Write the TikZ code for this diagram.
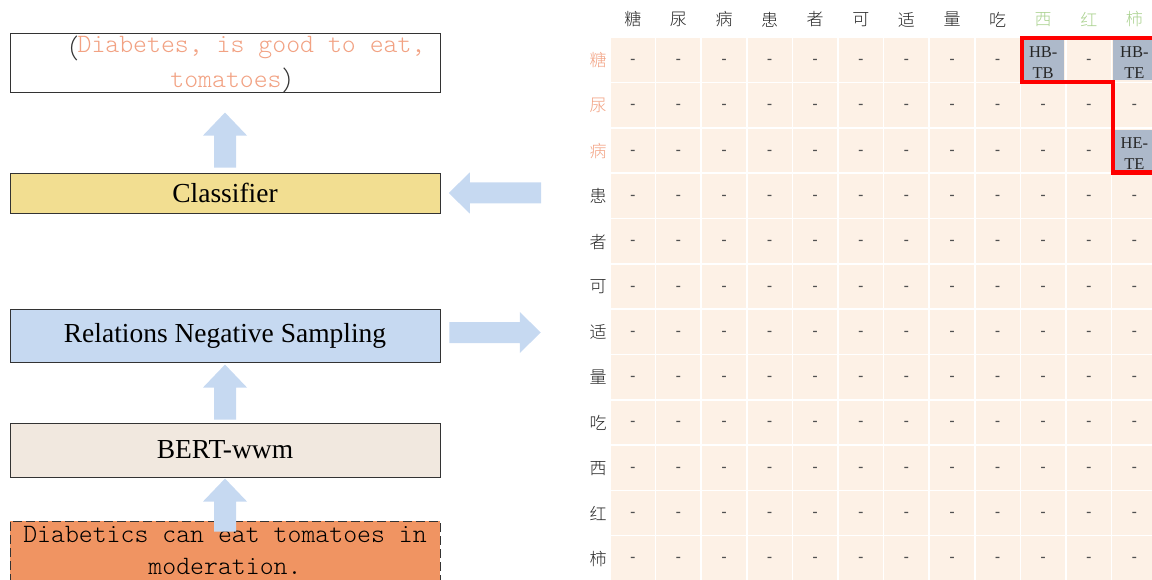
\documentclass[tikz,border=0pt]{standalone}
\usepackage{fontspec}
\setmainfont{Liberation Serif}
\newfontfamily\cjk{Noto Sans CJK SC}[UprightFont={* Light}]
\newfontfamily\monolight{Latin Modern Mono Light}
\usetikzlibrary{calc}

\definecolor{edge}{HTML}{333333}
\definecolor{ink}{HTML}{262626}
\definecolor{salmon}{HTML}{F2A283}
\definecolor{leaf}{HTML}{A9D18E}
\definecolor{clsfill}{HTML}{F2DE91}
\definecolor{negfill}{HTML}{C6D9F1}
\definecolor{bertfill}{HTML}{F1E8DF}
\definecolor{inputfill}{HTML}{F09462}
\definecolor{flow}{HTML}{C6D9F1}
\definecolor{cellfill}{HTML}{FDF1E6}
\definecolor{tagfill}{HTML}{ADB9CA}
\definecolor{dashgray}{HTML}{505050}

\begin{document}
\begin{tikzpicture}[x=1pt,y=-1pt,
  stage/.style={draw=edge, line width=0.9pt, minimum width=430, minimum height=#1,
    inner sep=0pt, font=\fontsize{27.5}{32}\selectfont, text=black},
  monotext/.style={inner sep=0pt, font=\monolight\fontsize{26.5}{32}\selectfont},
  cell/.style={fill=cellfill, draw=white, line width=1.5pt, minimum width=45.6,
    minimum height=45.3, inner sep=0pt},
  dashmark/.style={inner sep=0pt, text=dashgray, font=\bfseries\fontsize{15}{18}\selectfont},
  tag/.style={fill=tagfill, minimum width=42, minimum height=41, inner sep=0pt},
  tagtext/.style={inner sep=0pt, align=center, text=ink, font=\fontsize{16.5}{21}\selectfont},
  head/.style={inner sep=0pt, font=\cjk\fontsize{17}{20}\selectfont},
  frame/.style={draw=red, line width=4.5pt},
  pics/liftarrow/.style={code={
    \fill[flow] (-11,0) -- (-11,-#1) -- (-22,-#1) -- (0,{-#1-23}) -- (22,-#1)
      -- (11,-#1) -- (11,0) -- cycle;}},
  pics/sidearrow/.style={code={
    \fill[flow] (0,-10.5) -- (#1,-10.5) -- (#1,-20.5) -- ({#1+21},0) -- (#1,20.5)
      -- (#1,10.5) -- (0,10.5) -- cycle;}}
]
\useasboundingbox (0,0) rectangle (1152,580);

% ---- pipeline boxes ----
\node[stage=59, fill=white] (out) at (225,62.5) {};
\node[monotext, text=salmon] (outA) at (251.5,48) {Diabetes, is good to eat,};
\node[inner sep=0pt, anchor=east, text=edge, font=\cjk\fontsize{26.5}{32}\selectfont] (openp) at ($(outA.west)+(2,0)$) {（};
\node[monotext, text=salmon] (outB) at (226,80) {tomatoes};
\node[inner sep=0pt, anchor=west, text=edge, font=\cjk\fontsize{26.5}{32}\selectfont] (closep) at (outB.east) {）};

\node[stage=40, fill=clsfill] (cls) at (225,193) {Classifier};
\node[stage=53, fill=negfill] (neg) at (225,335.5) {Relations Negative Sampling};
\node[stage=54, fill=bertfill] (bert) at (225,450) {BERT-wwm};
\node[stage=62, fill=inputfill, dash pattern=on 9pt off 4pt] (inp) at (225,552) {};
\node[monotext, align=center, text=black] (inptext) at (225,550.5)
  {Diabetics can eat tomatoes in\\moderation.};

% ---- block arrows ----
\pic at ($(cls.north)+(0,-5)$) {liftarrow=32};
\pic at ($(bert.north)+(0,-3)$) {liftarrow=32};
\pic at ($(inp.north)+(0,11)$) {liftarrow=30};
\pic[rotate=180] at ($(cls.east)+(100.7,0)$) {sidearrow=71.4};
\pic at ($(neg.east)+(9,-3)$) {sidearrow=70.3};

% ---- label grid ----
\foreach \r in {0,...,11}{
  \foreach \c in {0,...,11}{
    \node[cell] (cell-\r-\c) at ({632.8+45.6*\c},{60+45.3*\r}) {};
    \pgfmathtruncatemacro\tagged{((\r==0)&&((\c==9)||(\c==11)))||((\r==2)&&(\c==11))}
    \ifnum\tagged=0
      \node[dashmark] (mark-\r-\c) at ($(cell-\r-\c)+(0,1.5)$) {-};
    \fi
  }
}
\foreach \n/\r/\c/\t in {a/0/9/{HB-\\TB}, b/0/11/{HB-\\TE}, c/2/11/{HE-\\TE}}{
  \node[tag] (tag-\n) at (cell-\r-\c) {};
  \node[tagtext] (tagtext-\n) at ($(tag-\n)+(0,2.5)$) {\t};
}

\foreach \c/\ch/\col in {0/糖/ink,1/尿/ink,2/病/ink,3/患/ink,4/者/ink,5/可/ink,
    6/适/ink,7/量/ink,8/吃/ink,9/西/leaf,10/红/leaf,11/柿/leaf}{
  \node[head, text=\col] (colhead-\c) at ({632.8+45.6*\c},19.5) {\ch};
}
\foreach \r/\ch/\col in {0/糖/salmon,1/尿/salmon,2/病/salmon,3/患/ink,4/者/ink,5/可/ink,
    6/适/ink,7/量/ink,8/吃/ink,9/西/ink,10/红/ink,11/柿/ink}{
  \node[head, text=\col] (rowhead-\r) at (598,{60.5+45.3*\r}) {\ch};
}

% ---- highlighted span ----
\draw[frame] ($(cell-0-11.north east)+(10,1.5)$) -- ($(cell-0-9.north west)+(2.5,1.5)$)
  |- ($(cell-0-11.south west)+(2,-1.6)$) |- ($(cell-2-11.south east)+(10,-1.5)$);
\end{tikzpicture}
\end{document}
